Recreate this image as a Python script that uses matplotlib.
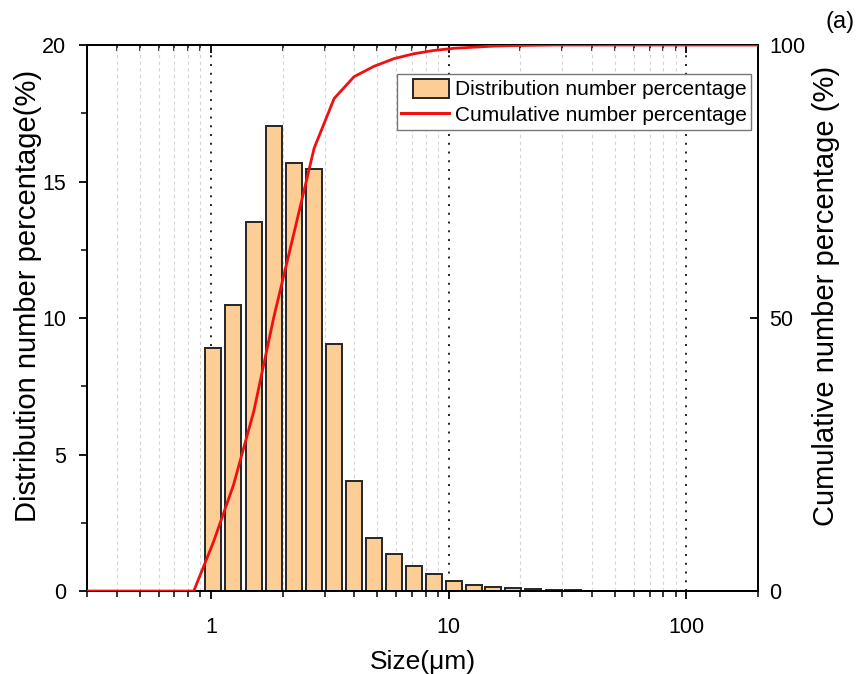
import numpy as np
import matplotlib
matplotlib.use("Agg")
import matplotlib.pyplot as plt
from matplotlib.patches import Patch, Rectangle
from matplotlib.lines import Line2D
from matplotlib.legend_handler import HandlerPatch
from matplotlib.ticker import MultipleLocator

# -----------------------------------------
# Data
# -----------------------------------------

# bin centres in um
sizes = [0.26, 0.32, 0.389, 0.472, 0.573, 0.695, 0.844,
         1.02, 1.24, 1.51, 1.83, 2.23, 2.71, 3.29, 3.99, 4.84, 5.87,
         7.12, 8.64, 10.5, 12.7, 15.4, 18.7, 22.7, 27.6, 33.4,
         40.5, 49.2, 59.7, 72.4, 87.9, 106.7, 129.5, 157.2, 190.8, 231.6]

# number percentage per bin (%)
dist_pct = [0, 0, 0, 0, 0, 0, 0,
            8.9, 10.48, 13.53, 17.04, 15.69, 15.46, 9.05, 4.03, 1.93, 1.34,
            0.91, 0.61, 0.38, 0.23, 0.16, 0.11, 0.07, 0.05, 0.03,
            0, 0, 0, 0, 0, 0, 0, 0, 0, 0]

# cumulative number percentage (%)
cum_pct = [0, 0, 0, 0, 0, 0, 0,
           8.9, 19.4, 32.9, 50.0, 65.6, 81.1, 90.2, 94.2, 96.1, 97.5,
           98.4, 99.0, 99.4, 99.6, 99.8, 99.9, 99.95, 100, 100,
           100, 100, 100, 100, 100, 100, 100, 100, 100, 100]

x_ticks = [1, 10, 100]
y_ticks = [0, 5, 10, 15, 20]
y2_ticks = [0, 50, 100]

plt.rcParams["font.family"] = ["Liberation Sans", "DejaVu Sans"]

bar_color = "#FDCD96"
edge_color = "#262626"
line_color = "#f01010"

# -----------------------------------------
# Figure
# -----------------------------------------

fig = plt.figure(figsize=(8.59, 6.74), dpi=100)
ax = fig.add_axes([0.1013, 0.1231, 0.7811, 0.8101])
ax2 = ax.twinx()

# bars with equal width in log space
half = 10 ** 0.0336
sizes_arr = np.array(sizes)
left = sizes_arr / half
right = sizes_arr * half
ax.bar(left, dist_pct, width=right - left, align="edge",
       color=bar_color, edgecolor=edge_color, linewidth=1.4, zorder=3)

ax.set_xscale("log")
ax.set_xlim(0.3, 200)
ax.set_ylim(0, 20)
ax.set_xticks(x_ticks)
ax.set_xticklabels([str(t) for t in x_ticks])
ax.set_yticks(y_ticks)
ax.yaxis.set_minor_locator(MultipleLocator(2.5))

ax.grid(which="minor", axis="x", linestyle=(0, (3, 3)), color="#d4d4d4", linewidth=0.8, zorder=0)
ax.grid(which="major", axis="x", linestyle=(0, (1, 3.5)), color="#222222", linewidth=1.4, zorder=1)

ax.tick_params(axis="x", which="major", direction="out", length=6, width=1.3, labelsize=15.5, pad=13)
ax.tick_params(axis="x", which="minor", direction="out", length=4, width=1.1)
ax.tick_params(axis="y", which="major", direction="out", length=6, width=1.3, labelsize=15.5,
               pad=9, left=True, right=False)
ax.tick_params(axis="y", which="minor", direction="out", length=4, width=1.1, left=True, right=False)

# top ticks pointing inward
top = ax.secondary_xaxis("top")
top.tick_params(axis="x", which="major", direction="in", length=6, width=1.3, labeltop=False)
top.tick_params(axis="x", which="minor", direction="in", length=4, width=1.1)
top.set_xticks(x_ticks)
top.set_xticklabels([])
top.spines["top"].set_linewidth(1.3)

ax.set_xlabel("Size(\u03bcm)", fontsize=19, labelpad=8)
ax.set_ylabel("Distribution number percentage(%)", fontsize=21, labelpad=0)
ax.yaxis.label.set_y(0.54)

# cumulative line
ax2.plot(sizes, cum_pct, color=line_color, linewidth=2.0, zorder=4)
ax2.set_ylim(0, 100)
ax2.set_yticks(y2_ticks)
ax2.tick_params(axis="y", direction="in", length=6, width=1.3, labelsize=15.5, pad=8)
ax2.set_ylabel("Cumulative number percentage (%)", fontsize=21, labelpad=5)
ax2.yaxis.label.set_y(0.54)

for a in (ax, ax2):
    for sp in a.spines.values():
        sp.set_linewidth(1.3)


# legend patch is narrower than the line handle and sits at its right end
def narrow_box(legend, orig_handle, xdescent, ydescent, width, height, fontsize):
    return Rectangle((-xdescent + width * 0.25, -ydescent), width * 0.75, height)


bar_handle = Patch(facecolor=bar_color, edgecolor=edge_color, linewidth=1.4)
line_handle = Line2D([0], [0], color=line_color, linewidth=2.2)
leg = ax2.legend([bar_handle, line_handle],
                 ["Distribution number percentage", "Cumulative number percentage"],
                 handler_map={bar_handle: HandlerPatch(patch_func=narrow_box)},
                 loc="upper right", bbox_to_anchor=(0.9896, 0.9469), fontsize=15,
                 fancybox=False, edgecolor="#777777", framealpha=1,
                 handlelength=2.3, handleheight=1.05, handletextpad=0.25,
                 borderpad=0.22, labelspacing=0.25, borderaxespad=0)
leg.get_frame().set_linewidth(1.0)

fig.text(0.978, 0.967, "(a)", fontsize=17, ha="center", va="center")

fig.savefig("out.png", dpi=100)
